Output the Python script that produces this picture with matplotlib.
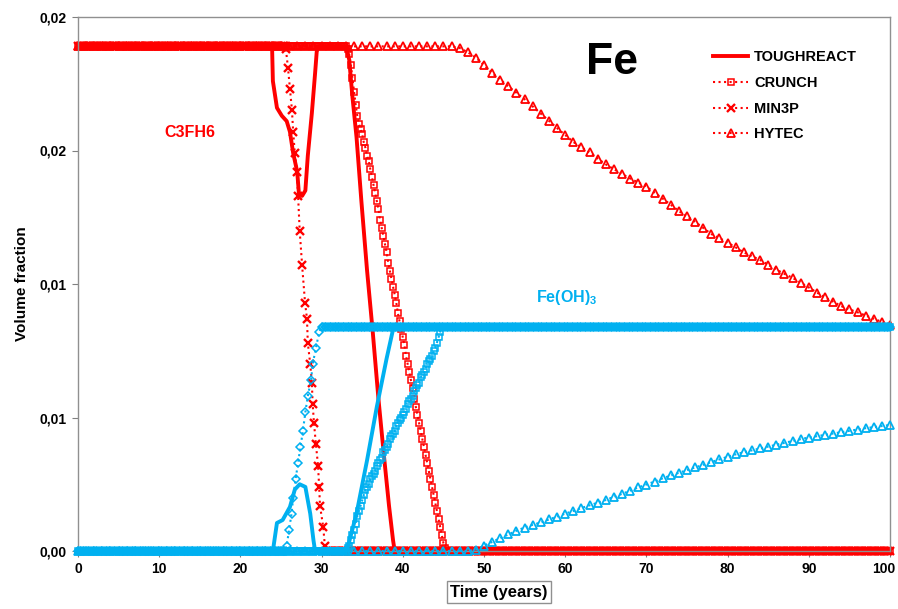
import numpy as np
import matplotlib
matplotlib.use('Agg')
import matplotlib.pyplot as plt
import matplotlib.transforms as mtransforms

# ---- data (time in years, volume fraction) ----

C3FH6_LEVEL = 0.0189   # initial C3FH6 plateau
FEOH3_LEVEL = 0.0084   # final Fe(OH)3 plateau

# TOUGHREACT (solid lines)
tough_c3fh6_t = [0, 23.9, 24.0, 24.5, 25.1, 25.7, 26.1, 26.5, 27.0, 27.2, 27.6, 28.0, 28.3,
                 28.8, 29.2, 29.4, 29.6, 33.0, 33.4, 33.8, 34.3, 34.9, 35.6, 36.3, 37.0,
                 37.7, 38.3, 38.8, 39.0, 100]
tough_c3fh6_v = [0.0189, 0.0189, 0.0176, 0.0166, 0.0163, 0.0161, 0.0157, 0.0149, 0.0142,
                 0.0134, 0.0133, 0.0135, 0.0148, 0.0164, 0.0179, 0.0187, 0.0189, 0.0189,
                 0.0184, 0.0170, 0.0155, 0.0131, 0.0105, 0.0082, 0.0057, 0.0035, 0.0017,
                 0.0004, 0.0, 0.0]
tough_feoh3_t = [0, 24.0, 24.5, 25.2, 26.1, 26.7, 27.3, 28.0, 28.6, 29.0, 29.2, 33.1, 33.7,
                 34.3, 35.6, 36.8, 38.0, 38.8, 39.1, 100]
tough_feoh3_v = [0, 0, 0.00105, 0.00116, 0.00165, 0.0023, 0.0025, 0.0024, 0.0014, 0.0004,
                 0, 0, 0.0007, 0.0014, 0.0034, 0.0054, 0.0072, 0.0083, 0.0084, 0.0084]

# CRUNCH (squares) - only the changing part, plateaus are added below
crunch_c3fh6_t = [33.0, 33.2, 33.4, 33.6, 33.8, 34.0, 34.2, 34.4, 34.6, 34.8, 35.0, 35.2,
                  35.4, 35.6, 35.8, 36.0, 36.2, 36.4, 36.6, 36.8, 37.0, 37.2, 37.4, 37.6,
                  37.8, 38.0, 38.2, 38.4, 38.6, 38.8, 39.0, 39.2, 39.4, 39.6, 39.8, 40.0,
                  40.2, 40.4, 40.6, 40.8, 41.0, 41.2, 41.4, 41.6, 41.8, 42.0, 42.2, 42.4,
                  42.6, 42.8, 43.0, 43.2, 43.4, 43.6, 43.8, 44.0, 44.2, 44.4, 44.6, 44.8,
                  45.0, 45.2, 45.4]
crunch_c3fh6_v = [0.0189, 0.0188, 0.0186, 0.0182, 0.0177, 0.0172, 0.0167, 0.0163, 0.0160,
                  0.0158, 0.0156, 0.0153, 0.0151, 0.0148, 0.0146, 0.0143, 0.0140, 0.0137,
                  0.0134, 0.0131, 0.0128, 0.0124, 0.0121, 0.0118, 0.0115, 0.0112, 0.0108,
                  0.0105, 0.0102, 0.0099, 0.0096, 0.0093, 0.0089, 0.0086, 0.0083, 0.0080,
                  0.0077, 0.0073, 0.0070, 0.0067, 0.0064, 0.0061, 0.0057, 0.0054, 0.0051,
                  0.0048, 0.0045, 0.0042, 0.0039, 0.0036, 0.0033, 0.0030, 0.0027, 0.0024,
                  0.0021, 0.0018, 0.0015, 0.0012, 0.0009, 0.0006, 0.0003, 0.0001, 0.0]
crunch_feoh3_t = [33.0, 33.2, 33.4, 33.6, 33.8, 34.0, 34.2, 34.4, 34.6, 34.8, 35.0, 35.2,
                  35.4, 35.6, 35.8, 36.0, 36.2, 36.4, 36.6, 36.8, 37.0, 37.2, 37.4, 37.6,
                  37.8, 38.0, 38.2, 38.4, 38.6, 38.8, 39.0, 39.2, 39.4, 39.6, 39.8, 40.0,
                  40.2, 40.4, 40.6, 40.8, 41.0, 41.2, 41.4, 41.6, 41.8, 42.0, 42.2, 42.4,
                  42.6, 42.8, 43.0, 43.2, 43.4, 43.6, 43.8, 44.0, 44.2, 44.4, 44.6, 44.8]
crunch_feoh3_v = [0.0, 0.0001, 0.0002, 0.0004, 0.0006, 0.0008, 0.0010, 0.0013, 0.0015,
                  0.0017, 0.0019, 0.0021, 0.0023, 0.0024, 0.0025, 0.0027, 0.0028, 0.0029,
                  0.0030, 0.0032, 0.0033, 0.0034, 0.0035, 0.0037, 0.0038, 0.0039, 0.0040,
                  0.0042, 0.0043, 0.0044, 0.0045, 0.0047, 0.0048, 0.0049, 0.0050, 0.0051,
                  0.0052, 0.0053, 0.0055, 0.0056, 0.0057, 0.0058, 0.0060, 0.0061, 0.0062,
                  0.0063, 0.0065, 0.0066, 0.0067, 0.0068, 0.0070, 0.0071, 0.0072, 0.0073,
                  0.0075, 0.0076, 0.0078, 0.0080, 0.0082, 0.0084]

# MIN3P (crosses / diamonds) - only the changing part
min3p_c3fh6_t = [25.6, 25.86, 26.1, 26.35, 26.5, 26.7, 26.97, 27.1, 27.3, 27.6, 27.96, 28.2,
                 28.3, 28.6, 28.8, 28.9, 29.06, 29.3, 29.56, 29.7, 29.8, 30.2, 30.4]
min3p_c3fh6_v = [0.0188, 0.0181, 0.0173, 0.0165, 0.0157, 0.0149, 0.0142, 0.0133, 0.0120,
                 0.0107, 0.0093, 0.0087, 0.0078, 0.0070, 0.0063, 0.0055, 0.0048, 0.0040,
                 0.0032, 0.0024, 0.0017, 0.0009, 0.0002]
min3p_feoh3_t = [25.7, 26.0, 26.3, 26.5, 26.8, 27.1, 27.4, 27.7, 28.0, 28.3, 28.7, 28.9,
                 29.3, 29.7, 30.0]
min3p_feoh3_v = [0.0002, 0.0008, 0.0014, 0.0020, 0.0027, 0.0033, 0.0039, 0.0045, 0.0052,
                 0.0058, 0.0064, 0.0070, 0.0076, 0.0082, 0.0084]

# HYTEC (triangles), yearly output
hytec_t = list(range(0, 101))
hytec_c3fh6_v = [C3FH6_LEVEL] * 46 + [
    0.01890, 0.01884, 0.01868, 0.01848, 0.01820, 0.01790, 0.01765, 0.01740, 0.01716, 0.01692,
    0.01665, 0.01638, 0.01611, 0.01584, 0.01558, 0.01532, 0.01512, 0.01493, 0.01470, 0.01448,
    0.01430, 0.01412, 0.01395, 0.01380, 0.01365, 0.01342, 0.01320, 0.01297, 0.01273, 0.01253,
    0.01233, 0.01210, 0.01187, 0.01172, 0.01155, 0.01137, 0.01118, 0.01104, 0.01090, 0.01072,
    0.01054, 0.01038, 0.01023, 0.01005, 0.00987, 0.00968, 0.00950, 0.00934, 0.00917, 0.00905,
    0.00894, 0.00882, 0.00870, 0.00858, 0.00846]
hytec_feoh3_v = [0.0] * 49 + [
    0.00005, 0.00020, 0.00034, 0.00048, 0.00062, 0.00076, 0.00088, 0.00098, 0.00107, 0.00118,
    0.00129, 0.00140, 0.00150, 0.00161, 0.00171, 0.00181, 0.00191, 0.00203, 0.00214, 0.00226,
    0.00238, 0.00249, 0.00260, 0.00272, 0.00283, 0.00293, 0.00303, 0.00313, 0.00323, 0.00333,
    0.00343, 0.00353, 0.00362, 0.00370, 0.00377, 0.00384, 0.00391, 0.00398, 0.00405, 0.00412,
    0.00419, 0.00425, 0.00430, 0.00435, 0.00440, 0.00445, 0.00450, 0.00455, 0.00460, 0.00464,
    0.00468, 0.00472]

codes = ['TOUGHREACT', 'CRUNCH', 'MIN3P', 'HYTEC']
y_ticks = [0, 0.005, 0.01, 0.015, 0.02]
y_ticklabels = ['0,00', '0,01', '0,01', '0,02', '0,02']   # excel rounding, as in the original
x_ticks = list(range(0, 101, 10))

RED = '#FF0000'
BLUE = '#00B0F0'


def with_plateaus(t, v, before, after, step=0.2):
    """ add the flat parts (constant level) before and after the changing part """
    t_pre = np.arange(0, t[0] - 1e-9, step)
    t_post = np.arange(t[-1] + step, 100 + 1e-9, step)
    tt = np.concatenate([t_pre, t, t_post])
    vv = np.concatenate([np.full(len(t_pre), before), v, np.full(len(t_post), after)])
    return tt, vv


plt.rcParams['font.family'] = ['Liberation Sans', 'DejaVu Sans']
plt.rcParams['font.weight'] = 'bold'
plt.rcParams['mathtext.fontset'] = 'custom'
plt.rcParams['mathtext.rm'] = 'Liberation Sans:bold'
plt.rcParams['mathtext.bf'] = 'Liberation Sans:bold'

fig = plt.figure(figsize=(8.98, 6.09), dpi=100)
ax = fig.add_axes([78/898, 1 - 551/609, 812/898, 534/609])

dot = dict(linestyle=':', linewidth=1.5, clip_on=False)
sq = dict(marker='s', ms=4.5, mew=1.1, mfc='none')
xx = dict(marker='x', ms=5.5, mew=1.7)
tri = dict(marker='^', ms=6, mew=1.3, mfc='none')
dia = dict(marker='D', ms=4.5, mew=1.1, mfc='none')

# C3FH6 (red)
ax.plot(tough_c3fh6_t, tough_c3fh6_v, '-', color=RED, lw=2.8, clip_on=False, zorder=2,
        label=codes[0])
t, v = with_plateaus(crunch_c3fh6_t, crunch_c3fh6_v, C3FH6_LEVEL, 0.0)
ax.plot(t, v, color=RED, zorder=2, label=codes[1], **sq, **dot)
t, v = with_plateaus(min3p_c3fh6_t, min3p_c3fh6_v, C3FH6_LEVEL, 0.0)
ax.plot(t, v, color=RED, zorder=2, label=codes[2], **xx, **dot)
ax.plot(hytec_t, hytec_c3fh6_v, color=RED, zorder=2, label=codes[3], **tri, **dot)

# Fe(OH)3 (blue)
ax.plot(hytec_t, hytec_feoh3_v, color=BLUE, zorder=3, **tri, **dot)
ax.plot(tough_feoh3_t, tough_feoh3_v, '-', color=BLUE, lw=2.8, clip_on=False, zorder=3)
t, v = with_plateaus(crunch_feoh3_t, crunch_feoh3_v, 0.0, FEOH3_LEVEL)
ax.plot(t, v, color=BLUE, zorder=3, **sq, **dot)
t, v = with_plateaus(min3p_feoh3_t, min3p_feoh3_v, 0.0, FEOH3_LEVEL)
ax.plot(t, v, color=BLUE, zorder=3, **dia, **dot)

ax.set_xlim(0, 100)
ax.set_ylim(0, 0.02)
ax.set_xticks(x_ticks)
ax.set_xticklabels([str(x) for x in x_ticks], fontsize=10, fontweight='bold')
ax.set_yticks(y_ticks)
ax.set_yticklabels(y_ticklabels, fontsize=10, fontweight='bold')
ax.tick_params(axis='both', direction='out', length=4, color='#808080', pad=4)
# the "100" label sits a bit to the left so that it stays inside the picture
last = ax.get_xticklabels()[-1]
last.set_transform(last.get_transform() + mtransforms.ScaledTranslation(-6/100, 0, fig.dpi_scale_trans))
for s in ax.spines.values():
    s.set_color('#909090')
    s.set_linewidth(1)

ax.set_ylabel('Volume fraction', fontsize=11, fontweight='bold', labelpad=8)
fig.text(499/898, 1 - 592/609, 'Time (years)', fontsize=12, fontweight='bold',
         ha='center', va='center',
         bbox=dict(boxstyle='square,pad=0.2', fc='white', ec='#909090', lw=1))

ax.text(13.8, 0.01566, 'C3FH6', color=RED, fontsize=11.5, fontweight='bold',
        ha='center', va='center')
ax.text(60.2, 0.00951, r'Fe(OH)$_{3}$', color=BLUE, fontsize=11.5, fontweight='bold',
        ha='center', va='center')
ax.text(65.8, 0.0183, 'Fe', color='black', fontsize=32, fontweight='bold',
        ha='center', va='center')

ax.legend(loc='upper left', bbox_to_anchor=(0.766, 0.962), frameon=False, fontsize=10.5,
          handlelength=2.4, handletextpad=0.4, labelspacing=0.8)

fig.savefig('out.png', dpi=100)
